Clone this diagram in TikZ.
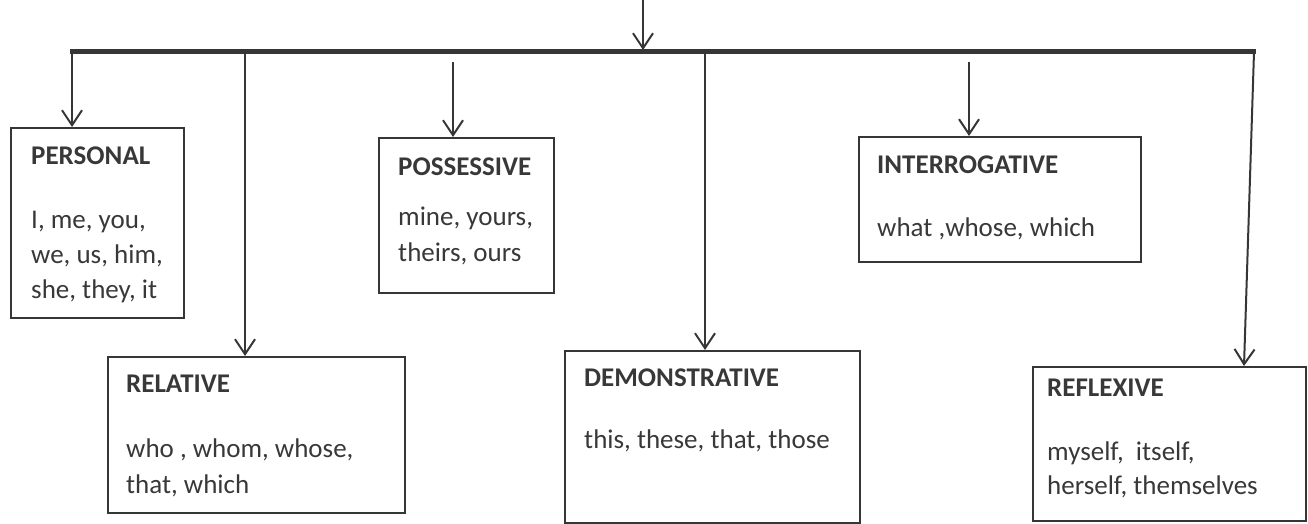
\documentclass[tikz,border=0pt]{standalone}
\usepackage{fontspec}
\setmainfont{Carlito}
\usetikzlibrary{arrows.meta,calc}
\definecolor{ink}{HTML}{363636}
\definecolor{txt}{HTML}{383838}
\tikzset{
  box/.style={draw=ink, line width=2.2pt, inner sep=0pt, anchor=north west},
  conn/.style={draw=ink, line width=2pt},
  arr/.style={conn, -{Straight Barb[length=15pt,width=20pt,line width=2pt]}},
  barline/.style={draw=ink, line width=5pt},
  ttl/.style={anchor=base west, inner sep=0pt, text=txt, font=\fontsize{27}{32}\selectfont\bfseries},
  bdy/.style={anchor=base west, inner sep=0pt, text=txt, font=\fontsize{27}{32}\selectfont},
}
\begin{document}
\begin{tikzpicture}[x=1pt,y=-1pt]
\useasboundingbox (0,0) rectangle (1308,524);
% boxes
\node[box, minimum width=173pt, minimum height=190pt] (personal) at (10,127) {};
\node[box, minimum width=297pt, minimum height=156pt] (relative) at (107,356) {};
\node[box, minimum width=175pt, minimum height=155pt] (possessive) at (378,137) {};
\node[box, minimum width=295pt, minimum height=172pt] (demonstr) at (564,350) {};
\node[box, minimum width=282pt, minimum height=125pt] (interrog) at (858,136) {};
\node[box, minimum width=273pt, minimum height=154pt] (reflexive) at (1032,366) {};
% texts
\node[ttl] (personal-t) at (31,164) {PERSONAL};
\node[bdy] (personal-1) at (31,228) {I, me, you,};
\node[bdy] (personal-2) at (31,263) {we, us, him,};
\node[bdy] (personal-3) at (31,298) {she, they, it};
\node[ttl] (relative-t) at (126,392) {RELATIVE};
\node[bdy] (relative-1) at (126,457) {who , whom, whose,};
\node[bdy] (relative-2) at (126,493) {that, which};
\node[ttl] (possessive-t) at (398,175) {POSSESSIVE};
\node[bdy] (possessive-1) at (398,225) {mine, yours,};
\node[bdy] (possessive-2) at (398,261) {theirs, ours};
\node[ttl] (demonstr-t) at (584,386) {DEMONSTRATIVE};
\node[bdy] (demonstr-1) at (584,448) {this, these, that, those};
\node[ttl] (interrog-t) at (877,173) {INTERROGATIVE};
\node[bdy] (interrog-1) at (877,236) {what ,whose, which};
\node[ttl] (reflexive-t) at (1047,396) {REFLEXIVE};
\node[bdy] (reflexive-1) at (1047,460) {myself,\ \ itself,};
\node[bdy] (reflexive-2) at (1047,494) {herself, themselves};
% bar and connectors
\coordinate (top) at (643,0);
\coordinate (topend) at (643,50);
\coordinate (barL) at (70,52);
\coordinate (barR) at (1256,52);
\coordinate (bP) at (72,52);
\coordinate (bR) at (245,52);
\coordinate (sPo) at (453,62);
\coordinate (bD) at (705,52);
\coordinate (sI) at (969,62);
\coordinate (bX) at (1254,52);
\coordinate (eX) at ($(reflexive.north west)+(212,0)$);
\draw[barline] (barL) -- (barR);
\draw[arr] (top) -- (topend);
\draw[arr] (bP) -- (bP |- personal.north);
\draw[arr] (bR) -- (bR |- relative.north);
\draw[arr] (sPo) -- (sPo |- possessive.north);
\draw[arr] (bD) -- (bD |- demonstr.north);
\draw[arr] (sI) -- (sI |- interrog.north);
\draw[arr] (bX) -- (eX);
\end{tikzpicture}
\end{document}
